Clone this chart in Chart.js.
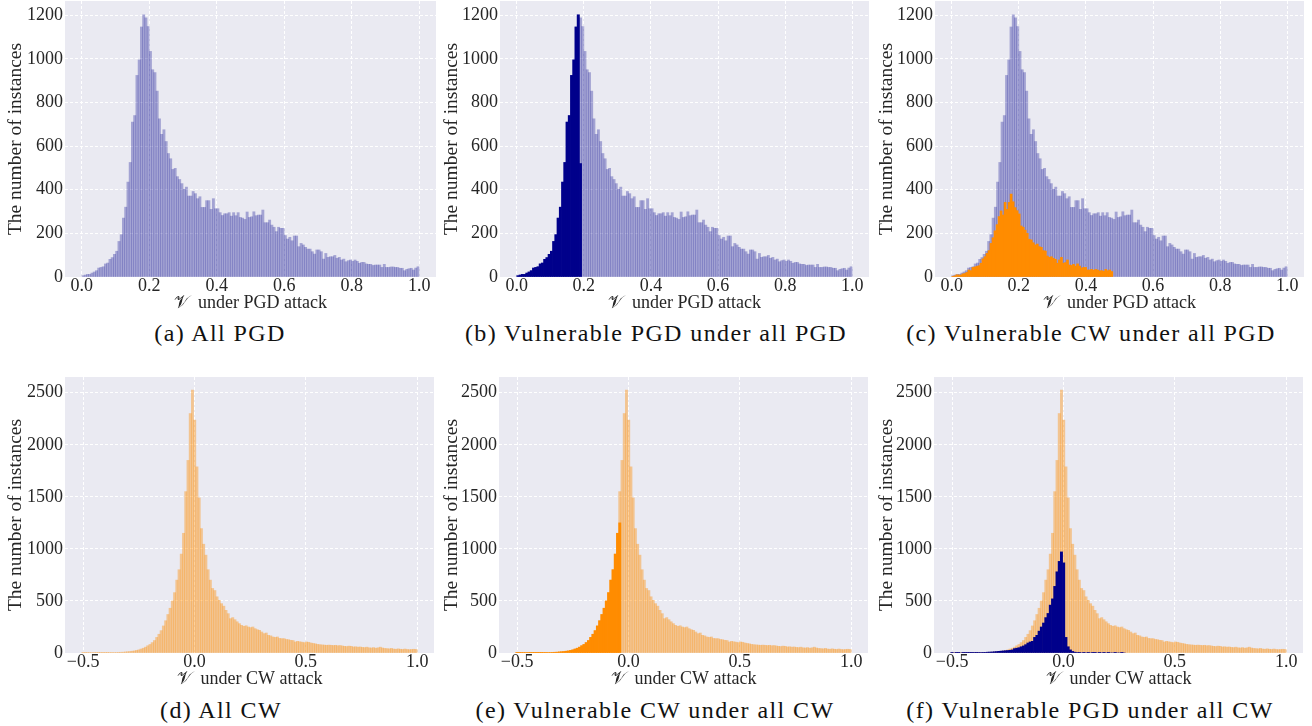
<!DOCTYPE html>
<html><head><meta charset="utf-8">
<script src="https://cdn.jsdelivr.net/npm/chart.js@4.4.0/dist/chart.umd.min.js"></script>
<style>
html,body{margin:0;padding:0;background:#fff;width:1312px;height:726px;overflow:hidden;position:relative;}
canvas{position:absolute;}
.cap{position:absolute;font-family:"Liberation Serif",serif;font-size:24px;letter-spacing:1.4px;color:#111;white-space:nowrap;transform:translate(-50%,-50%);}
</style></head><body>
<script>
// ---------- DATA ----------
// PGD histograms: 150 bins on [0, 1]
const pgdBinStart = 0.0, pgdBinWidth = 1 / 150;
const pgdAll = [
  6, 9, 12, 12, 18, 23, 29, 41, 44, 47,
  60, 64, 81, 89, 104, 118, 163, 194, 270, 320,
  435, 525, 710, 740, 924, 995, 1146, 1202, 1188, 1148,
  1034, 950, 937, 852, 725, 654, 675, 621, 566, 542,
  493, 498, 460, 447, 428, 402, 412, 371, 371, 392,
  382, 359, 368, 319, 319, 350, 350, 310, 359, 313,
  313, 295, 282, 290, 290, 295, 279, 295, 281, 295,
  273, 270, 264, 298, 273, 276, 299, 281, 284, 284,
  307, 249, 249, 261, 238, 228, 208, 228, 223, 223,
  190, 174, 182, 166, 188, 188, 139, 154, 147, 136,
  128, 128, 116, 105, 124, 124, 116, 82, 108, 90,
  93, 93, 99, 86, 90, 78, 82, 70, 75, 78,
  72, 78, 72, 63, 67, 67, 60, 58, 58, 53,
  55, 55, 55, 44, 58, 44, 44, 46, 46, 44,
  44, 40, 40, 29, 35, 38, 40, 32, 41, 47
];
// vulnerable PGD instances (same bins, lowest part)
const pgdVulnerable = [
  6, 9, 12, 12, 18, 23, 29, 41, 44, 47,
  60, 64, 81, 89, 104, 118, 163, 194, 270, 320,
  435, 525, 710, 740, 924, 995, 1146, 1202, 520
];
// vulnerable CW instances measured under PGD: 80 bins on [0, 0.48]
const cwOnPgdStart = 0.0, cwOnPgdWidth = 0.006;
const cwOnPgd = [
  3, 5, 10, 9, 9, 14, 16, 21, 32, 29,
  44, 46, 49, 52, 63, 83, 93, 108, 121, 154,
  180, 212, 240, 277, 303, 284, 342, 310, 342, 380,
  345, 318, 304, 289, 234, 228, 215, 200, 173, 170,
  157, 147, 151, 139, 136, 121, 119, 96, 90, 93,
  86, 81, 63, 78, 90, 63, 66, 78, 55, 53,
  58, 50, 60, 50, 41, 44, 44, 32, 32, 35,
  31, 35, 32, 28, 29, 26, 35, 29, 32, 25
];
// CW histograms: 150 bins on [-0.506, 1.0]
const cwBinStart = -0.506, cwBinWidth = 1.506 / 150;
const cwAll = [
  3, 3, 4, 5, 5, 4, 3, 2, 2, 3,
  3, 3, 4, 4, 5, 5, 6, 7, 8, 10,
  12, 14, 17, 20, 25, 30, 38, 46, 56, 70,
  82, 100, 120, 150, 180, 215, 260, 310, 370, 430,
  500, 580, 700, 800, 950, 1150, 1550, 1850, 2300, 2525,
  2237, 1788, 1490, 1195, 1045, 940, 800, 700, 620, 600,
  540, 506, 474, 450, 410, 378, 330, 340, 320, 300,
  282, 266, 256, 262, 250, 244, 250, 234, 224, 218,
  202, 186, 192, 170, 165, 154, 150, 154, 140, 138,
  138, 130, 128, 122, 120, 106, 112, 108, 104, 100,
  106, 103, 96, 92, 88, 83, 80, 78, 76, 74,
  76, 74, 72, 74, 70, 72, 68, 64, 62, 66,
  64, 58, 60, 56, 58, 54, 52, 56, 50, 48,
  52, 46, 50, 56, 48, 44, 42, 40, 44, 38,
  36, 40, 36, 34, 38, 34, 32, 34, 36, 34
];
// vulnerable CW instances (same bins, lowest part)
const cwVulnerable = [
  3, 3, 4, 5, 5, 4, 3, 2, 2, 3,
  3, 3, 4, 4, 5, 5, 6, 7, 8, 10,
  12, 14, 17, 20, 25, 30, 38, 46, 56, 70,
  82, 100, 120, 150, 180, 215, 260, 310, 370, 430,
  500, 580, 700, 800, 950, 1150, 1250
];
// vulnerable PGD instances measured under CW (CW bins)
const pgdOnCw = [
  3, 0, 2, 3, 0, 2, 2, 3, 3, 2,
  4, 3, 4, 5, 6, 6, 8, 9, 10, 12,
  14, 16, 18, 20, 22, 24, 26, 30, 42, 46,
  51, 60, 68, 80, 96, 106, 112, 150, 170, 210,
  250, 288, 340, 380, 460, 520, 640, 780, 880, 971,
  866, 150, 60, 30, 15, 8, 5, 3, 0, 2,
  0, 3, 0, 2, 3, 0, 2, 0, 3, 0,
  2, 0, 0, 2, 0, 0, 2, 0
];
const pgdXTicks = [0.0, 0.2, 0.4, 0.6, 0.8, 1.0];
const cwXTicks = [-0.5, 0.0, 0.5, 1.0];
const pgdYTicks = [0, 200, 400, 600, 800, 1000, 1200];
const cwYTicks = [0, 500, 1000, 1500, 2000, 2500];
const captions = [
  '(a) All PGD', '(b) Vulnerable PGD under all PGD', '(c) Vulnerable CW under all PGD',
  '(d) All CW', '(e) Vulnerable CW under all CW', '(f) Vulnerable PGD under all CW'
];
const yTitle = 'The number of instances';
const pgdXTitle = '\u{1D4B1}  under PGD attack';
const cwXTitle = '\u{1D4B1}  under CW attack';

// ---------- STYLE ----------
const FONT = '"Liberation Serif", "Times New Roman", serif';
const TXT = '#262626';
const C_PGD_LIGHT = 'rgba(0,0,139,0.3)';
const C_PGD_DARK = '#00008B';
const C_CW_LIGHT = 'rgba(255,140,0,0.4)';
const C_CW_DARK = '#FF8C00';

function pts(start, width, counts) {
  return counts.map((y, i) => ({x: start + (i + 0.5) * width, y}));
}
function fmtX(v) {
  const s = Math.abs(v).toFixed(1);
  return v < -1e-9 ? '\u2212' + s : s;
}
const bgPlugin = {
  id: 'bg',
  beforeDraw(chart) {
    const {ctx, chartArea: a} = chart;
    ctx.save();
    ctx.fillStyle = '#EAEAF2';
    ctx.fillRect(a.left, a.top, a.right - a.left, a.bottom - a.top);
    ctx.restore();
  }
};

const pgdAllSet = {start: pgdBinStart, width: pgdBinWidth, counts: pgdAll, color: C_PGD_LIGHT, order: 1};
const cwAllSet = {start: cwBinStart, width: cwBinWidth, counts: cwAll, color: C_CW_LIGHT, order: 1};
const pgdAxis = {xMin: -0.05, xMax: 1.05, xTicks: pgdXTicks, yMax: 1265, yTicks: pgdYTicks, xTitle: pgdXTitle};
const cwAxis = {xMin: -0.5813, xMax: 1.0753, xTicks: cwXTicks, yMax: 2651, yTicks: cwYTicks, xTitle: cwXTitle};

const panels = [
  Object.assign({left: 0, top: -12, w: 436, yw: 65, ytp: 4, cap: [220, 333],
    datasets: [pgdAllSet]}, pgdAxis),
  Object.assign({left: 440, top: -12, w: 429, yw: 60, ytp: 0, cap: [656, 333],
    datasets: [pgdAllSet, {start: pgdBinStart, width: pgdBinWidth, counts: pgdVulnerable, color: C_PGD_DARK, order: 0}]}, pgdAxis),
  Object.assign({left: 875, top: -12, w: 429, yw: 60, ytp: 0, cap: [1091, 333],
    datasets: [pgdAllSet, {start: cwOnPgdStart, width: cwOnPgdWidth, counts: cwOnPgd, color: C_CW_DARK, order: 0}]}, pgdAxis),
  Object.assign({left: 0, top: 364, w: 434, yw: 65, ytp: 4, cap: [221, 710],
    datasets: [cwAllSet]}, cwAxis),
  Object.assign({left: 440, top: 364, w: 428, yw: 59, ytp: 0, cap: [655, 710],
    datasets: [cwAllSet, {start: cwBinStart, width: cwBinWidth, counts: cwVulnerable, color: C_CW_DARK, order: 0}]}, cwAxis),
  Object.assign({left: 875, top: 364, w: 428, yw: 59, ytp: 0, cap: [1090, 710],
    datasets: [cwAllSet, {start: cwBinStart, width: cwBinWidth, counts: pgdOnCw, color: C_PGD_DARK, order: 0}]}, cwAxis)
];

panels.forEach((p, idx) => {
  const cv = document.createElement('canvas');
  cv.width = p.w; cv.height = 330;
  cv.style.left = p.left + 'px'; cv.style.top = p.top + 'px';
  cv.style.width = p.w + 'px'; cv.style.height = '330px';
  document.body.appendChild(cv);
  new Chart(cv, {
    type: 'bar',
    data: {
      datasets: p.datasets.map(d => ({
        data: pts(d.start, d.width, d.counts),
        backgroundColor: d.color, borderWidth: 0, order: d.order,
        stack: 'hist', barThickness: 'flex', barPercentage: 1, categoryPercentage: 1
      }))
    },
    options: {
      responsive: false, animation: false, devicePixelRatio: 1,
      layout: {padding: {top: 13, left: 0, right: 0, bottom: 0}},
      plugins: {legend: {display: false}, tooltip: {enabled: false}},
      scales: {
        x: {
          type: 'linear', offset: false, min: p.xMin, max: p.xMax,
          afterBuildTicks: s => { s.ticks = p.xTicks.map(v => ({value: v})); },
          afterFit: s => { s.height = 41; },
          ticks: {font: {family: FONT, size: 18, lineHeight: 1}, color: TXT, padding: 0,
            maxRotation: 0, minRotation: 0, autoSkip: false, callback: v => fmtX(v)},
          grid: {color: '#ffffff', lineWidth: 1, drawTicks: false, offset: false},
          border: {display: false, dash: [3, 2]},
          title: {display: true, text: p.xTitle, color: TXT,
            font: {family: FONT, size: 18, lineHeight: 1.2}, padding: {top: 0, bottom: 4}}
        },
        y: {
          min: 0, max: p.yMax, stacked: false,
          afterBuildTicks: s => { s.ticks = p.yTicks.map(v => ({value: v})); },
          afterFit: s => { s.width = p.yw; },
          ticks: {font: {family: FONT, size: 18, lineHeight: 1}, color: TXT, padding: 2,
            autoSkip: false, callback: v => String(v)},
          grid: {color: '#ffffff', lineWidth: 1, drawTicks: false},
          border: {display: false, dash: [3, 2]},
          title: {display: true, text: yTitle, color: TXT,
            font: {family: FONT, size: 19.5, lineHeight: 1.2}, padding: {top: p.ytp, bottom: 0}}
        }
      }
    },
    plugins: [bgPlugin]
  });
  const cap = document.createElement('div');
  cap.className = 'cap';
  cap.textContent = captions[idx];
  cap.style.left = p.cap[0] + 'px';
  cap.style.top = p.cap[1] + 'px';
  document.body.appendChild(cap);
});
</script>
</body></html>
